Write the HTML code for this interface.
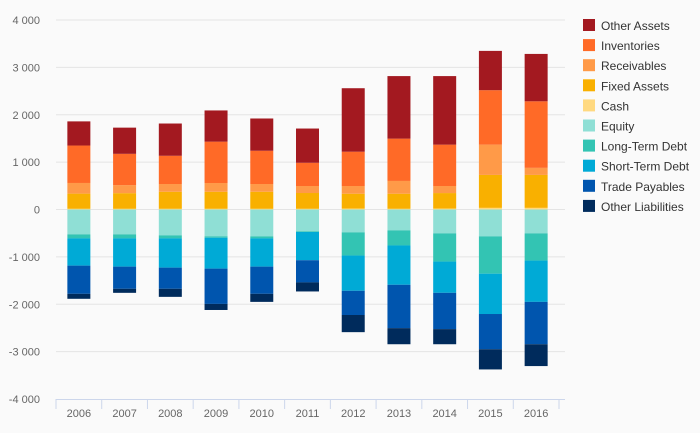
<!DOCTYPE html>
<html><head><meta charset="utf-8"><style>
body{margin:0;background:#fafafa;font-family:"Liberation Sans",sans-serif;}
svg{display:block}
</style></head><body>
<svg id="chart" width="700" height="433"></svg>
<script>
const categories=["2006","2007","2008","2009","2010","2011","2012","2013","2014","2015","2016"];
const seriesNames=["Other Assets","Inventories","Receivables","Fixed Assets","Cash","Equity","Long-Term Debt","Short-Term Debt","Trade Payables","Other Liabilities"];
const colors=["#a31920","#ff6a27","#ff9a48","#f9b000","#ffd980","#8fdfd5","#33c4b3","#00aad6","#0055ae","#002b5c"];
const cash=[15,15,15,15,15,15,20,15,20,35,35];
const fixedAssets=[320,330,360,360,360,333,313,318,327,695,695];
const receivables=[225,170,163,184,163,148,163,270,149,639,149];
const inventories=[790,660,596,873,702,490,724,893,873,1149,1405];
const otherAssets=[510,553,681,659,681,723,1340,1320,1447,830,1000];
const equity=[-525,-525,-546,-567,-567,-461,-482,-440,-504,-567,-504];
const longTermDebt=[-85,-85,-64,-29,-43,-14,-490,-319,-595,-788,-574];
const shortTermDebt=[-575,-596,-617,-652,-596,-596,-744,-830,-660,-851,-872];
const tradePayables=[-595,-468,-447,-745,-574,-468,-511,-915,-766,-744,-894];
const otherLiabilities=[-105,-85,-170,-128,-170,-191,-362,-340,-319,-426,-461];
const yTicks=[4000,3000,2000,1000,0,-1000,-2000,-3000,-4000];
const yTickLabels=["4 000","3 000","2 000","1 000","0","-1 000","-2 000","-3 000","-4 000"];

const NS="http://www.w3.org/2000/svg";
const svg=document.getElementById('chart');
const x0=56,x1=559,yTop=20,yBot=399;
const y=v=>yTop+(4000-v)/8000*(yBot-yTop);
const band=(x1-x0)/categories.length;
const xc=i=>x0+band*(i+0.5);
function mk(t,a){const e=document.createElementNS(NS,t);for(const k in a)e.setAttribute(k,a[k]);svg.appendChild(e);return e;}
yTicks.forEach((v,i)=>{
  if(v!==-4000){const g=mk('line',{x1:x0,x2:x1+6,y1:y(v),y2:y(v),stroke:'#e4e4e4','stroke-width':1});
  
  }
  const t=mk('text',{x:40,y:y(v)+4,'text-anchor':'end','font-size':11,fill:'#666'});
  t.textContent=yTickLabels[i];
  
  
});
const ax=mk('line',{x1:x0,x2:x1+6,y1:yBot+0.5,y2:yBot+0.5,stroke:'#ccd6eb'});


for(let i=0;i<=categories.length;i++){
  const tk=mk('line',{x1:x0+band*i,x2:x0+band*i,y1:yBot,y2:yBot+10,stroke:'#ccd6eb'});
  
  
}
const pos=[cash,fixedAssets,receivables,inventories,otherAssets];
const posIdx=[4,3,2,1,0];
const neg=[equity,longTermDebt,shortTermDebt,tradePayables,otherLiabilities];
const negIdx=[5,6,7,8,9];
const bw=23;
categories.forEach((c,i)=>{
  let acc=0;
  pos.forEach((s,k)=>{
    const r=mk('rect',{x:xc(i)-bw/2,y:y(acc+s[i]),width:bw,height:y(acc)-y(acc+s[i]),fill:colors[posIdx[k]]});
    
    
    acc+=s[i];
  });
  acc=0;
  neg.forEach((s,k)=>{
    const r=mk('rect',{x:xc(i)-bw/2,y:y(acc),width:bw,height:y(acc+s[i])-y(acc),fill:colors[negIdx[k]]});
    
    
    acc+=s[i];
  });
  const t=mk('text',{x:xc(i),y:417,'text-anchor':'middle','font-size':11,fill:'#666'});
  t.textContent=c;
  
  
});
seriesNames.forEach((n,k)=>{
  const ly=19+k*20.1;
  const r=mk('rect',{x:583,y:ly,width:12,height:12,fill:colors[k]});
  
  
  const t=mk('text',{x:601,y:ly+11,'font-size':12,fill:'#333'});
  t.textContent=n;
  
  
});
</script>
</body></html>
